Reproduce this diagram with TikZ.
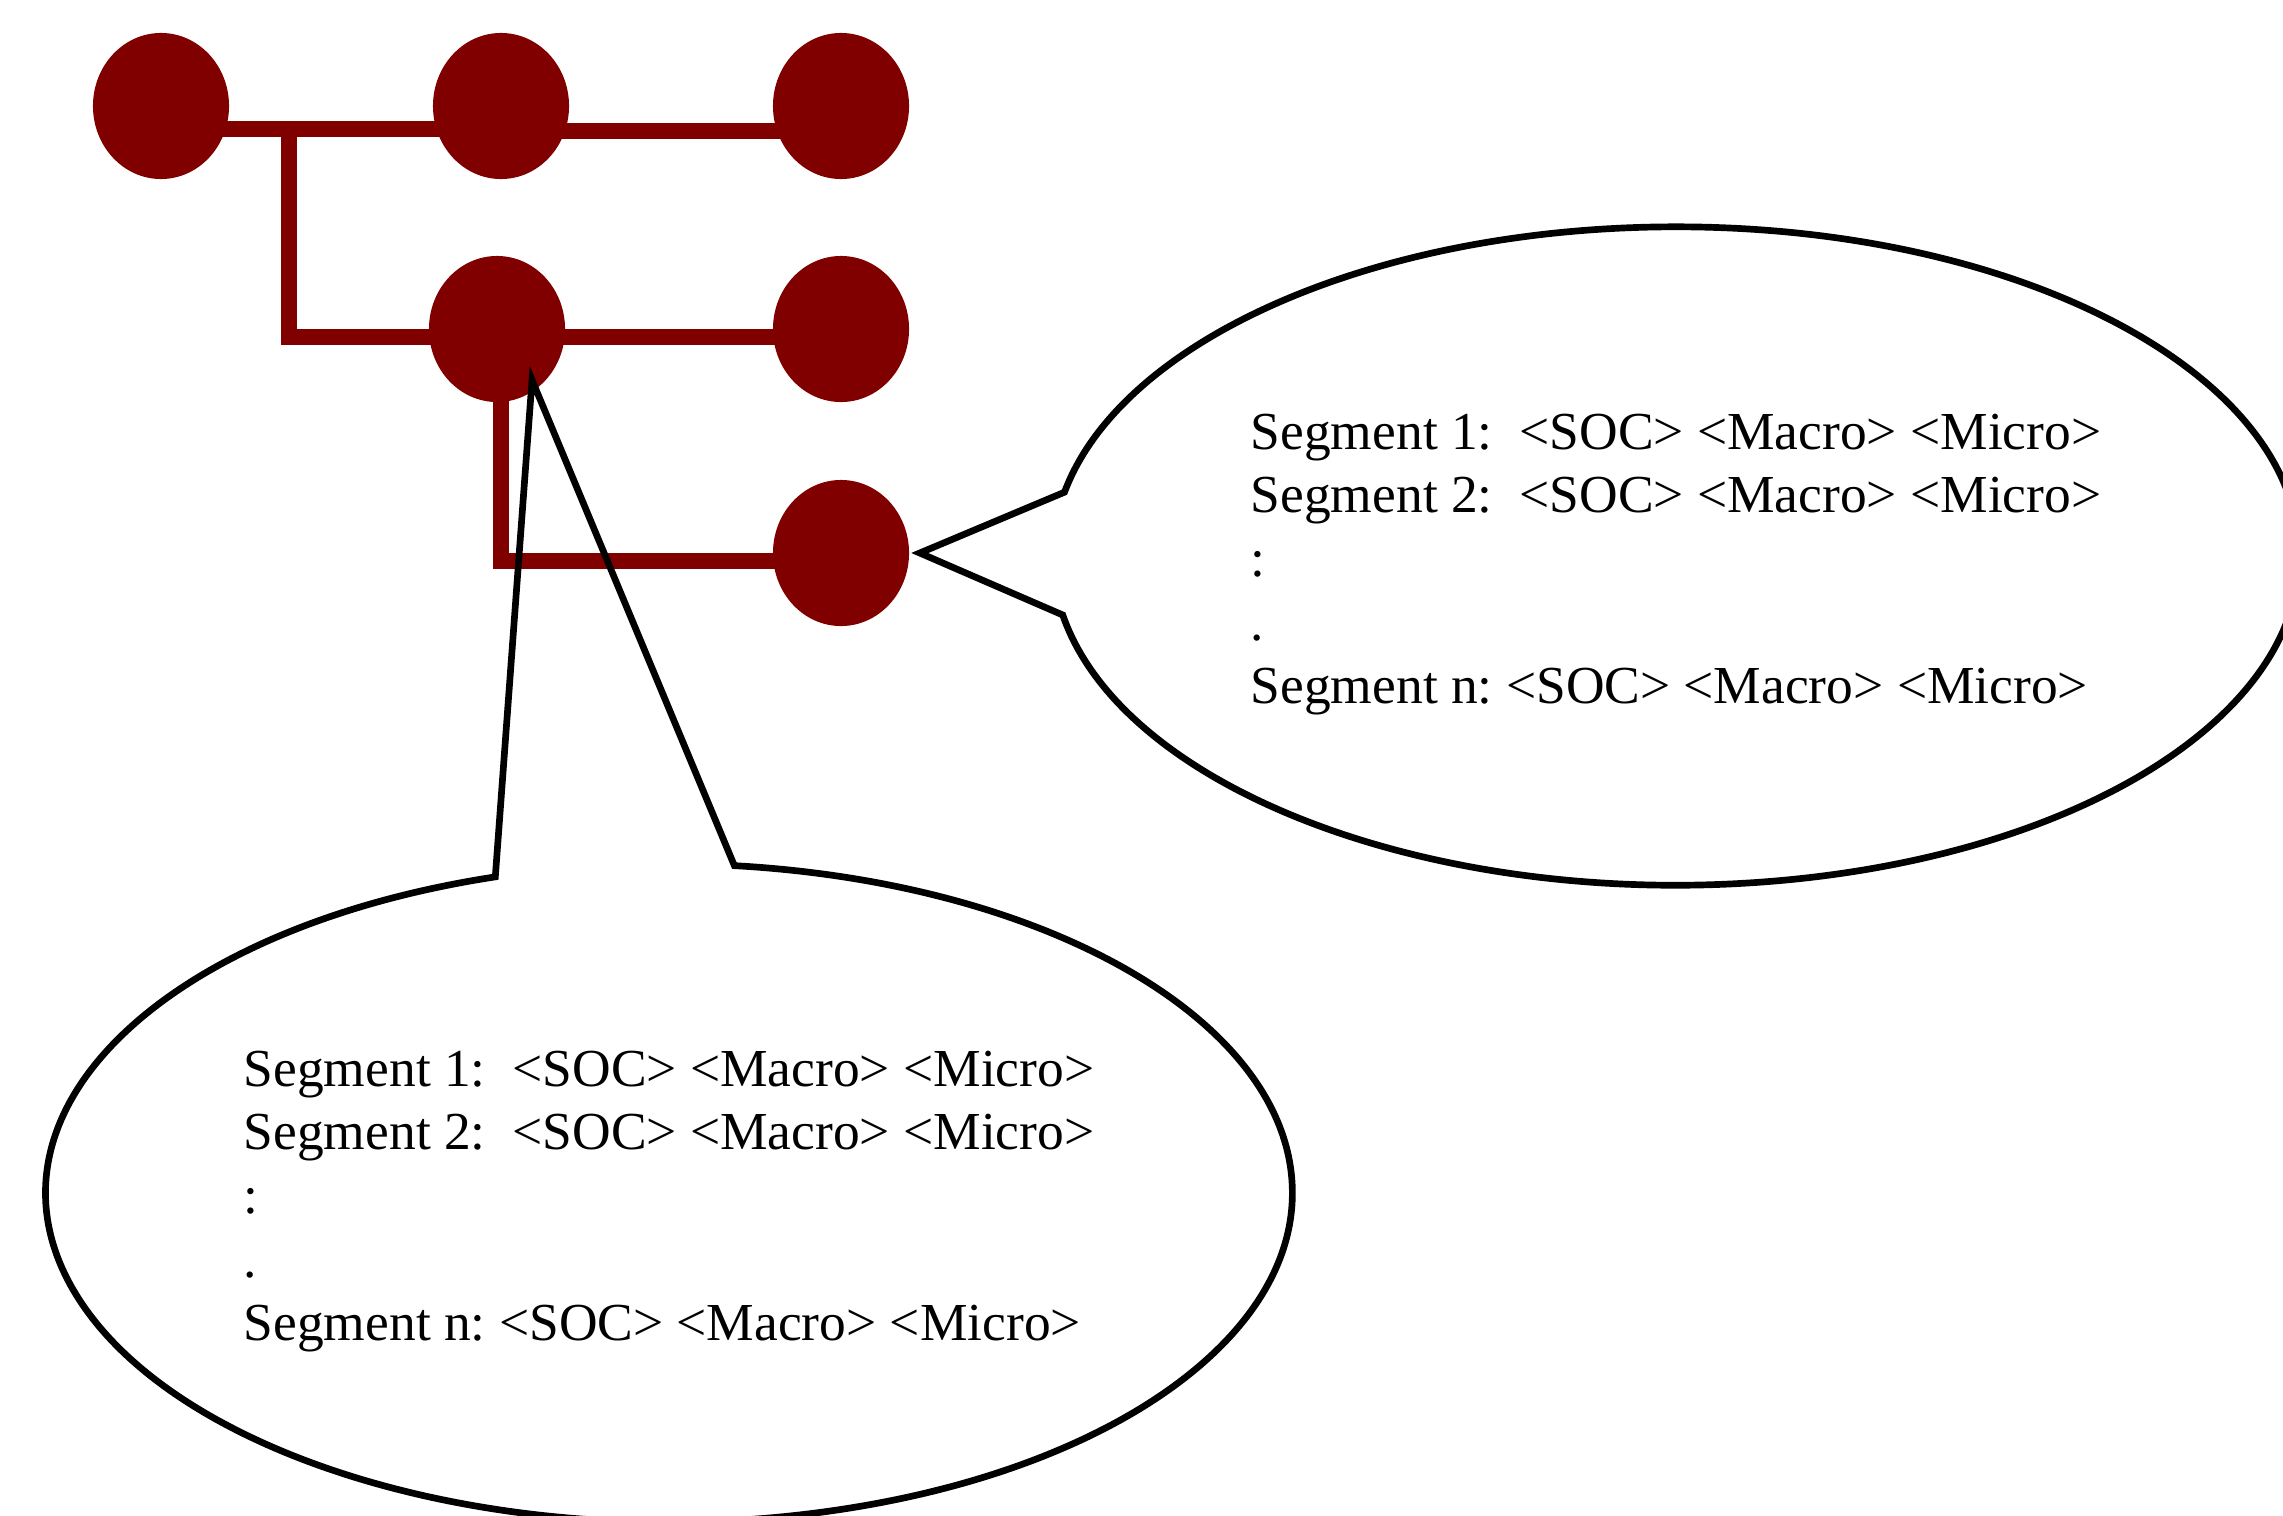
\documentclass[tikz,border=0pt]{standalone}
\usepackage{fontspec}
\setmainfont{Liberation Serif}
\usetikzlibrary{shapes.geometric,shapes.callouts,backgrounds}
\definecolor{maroon}{RGB}{128,0,0}

\begin{document}
\begin{tikzpicture}[x=0.01cm,y=-0.01cm,
    dot/.style={ellipse,fill=maroon,minimum width=1.36cm,minimum height=1.46cm,inner sep=0pt},
    link/.style={draw=maroon,line width=0.155cm},
    bubble/.style={ellipse callout,draw,line width=1.9pt,minimum width=12.46cm,minimum height=6.58cm,
      align=left,font=\fontsize{15.2}{18.1}\selectfont\frenchspacing}]
  \newcommand{\seglist}{\rule{0pt}{15pt}Segment 1:~ <SOC> <Macro> <Micro>\\ Segment 2:~ <SOC> <Macro> <Micro>\\ :\\ .\\ Segment n: <SOC> <Macro> <Micro>}
  \useasboundingbox (0,0) rectangle (2283,1515);
  \node[dot] (c1) at (161,106) {};
  \node[dot] (c2) at (501,106) {};
  \node[dot] (c3) at (841,106) {};
  \node[dot] (c4) at (497,329) {};
  \node[dot] (c5) at (841,329) {};
  \node[dot] (c6) at (841,553) {};
  \coordinate (j1) at (289,129);
  \begin{scope}[on background layer]
    \draw[link] ([yshift=-0.23cm]c1.center) -- ([yshift=-0.23cm]c2.center);
    \draw[link] ([yshift=-0.25cm]c2.center) -- ([yshift=-0.25cm]c3.center);
    \draw[link] (j1) |- ([yshift=-0.08cm]c5.center);
    \draw[link] ([xshift=0.04cm]c4.center) |- ([yshift=-0.08cm]c6.center);
  \end{scope}
  \node[bubble,callout absolute pointer={([xshift=0.1cm]c6.east)},callout pointer arc=21.5] (b1) at (1676,556) {\seglist};
  \node[bubble,callout absolute pointer={([shift={(0.35cm,-0.51cm)}]c4.center)},callout pointer arc=22.2] (b2) at (669,1193) {\seglist};
\end{tikzpicture}
\end{document}
